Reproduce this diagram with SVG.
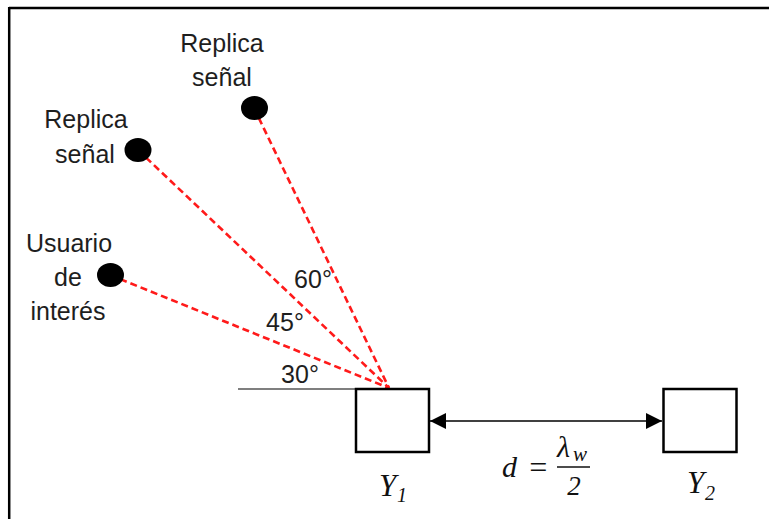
<svg xmlns="http://www.w3.org/2000/svg" width="769" height="519" viewBox="0 0 769 519">
<defs>
<style>
.lbl{font-family:"Liberation Sans",Arial,sans-serif;font-size:25px;fill:#1e1e1e;text-anchor:middle}
.math{font-family:"Liberation Serif","DejaVu Serif",serif;font-style:italic;fill:#111}
.ray{stroke:#ff1a1a;stroke-width:2.6;stroke-dasharray:7 4;fill:none}
.dot{fill:#000}
.box{fill:#fff;stroke:#000;stroke-width:2.5}
</style>
<marker id="ah" viewBox="0 0 16 16" refX="16" refY="8" markerWidth="16" markerHeight="16" markerUnits="userSpaceOnUse" orient="auto-start-reverse">
<path d="M0,0 L16,8 L0,16 Z" fill="#000"/>
</marker>
</defs>
<rect width="769" height="519" fill="#fff"/>
<g id="frame" stroke="#000" stroke-width="2.5" fill="none">
<line x1="9" y1="8" x2="769" y2="8"/>
<line x1="9.2" y1="7" x2="9.2" y2="519"/>
</g>
<g id="connectors">
<line x1="238" y1="389" x2="356" y2="389" stroke="#000" stroke-width="1.2"/>
<line class="ray" x1="110" y1="275" x2="389" y2="388"/>
<line class="ray" x1="138" y1="150" x2="389" y2="388"/>
<line class="ray" x1="254" y1="108" x2="389" y2="388"/>
<line x1="430" y1="421" x2="662" y2="421" stroke="#000" stroke-width="1.5" marker-start="url(#ah)" marker-end="url(#ah)"/>
</g>
<g id="user">
<ellipse class="dot" cx="110.5" cy="275" rx="13.5" ry="12"/>
<text class="lbl" x="69" y="252">Usuario</text>
<text class="lbl" x="68" y="286">de</text>
<text class="lbl" x="68" y="320">interés</text>
</g>
<g id="replica1">
<ellipse class="dot" cx="138" cy="150" rx="13.5" ry="12"/>
<text class="lbl" x="86" y="128">Replica</text>
<text class="lbl" x="85" y="163">señal</text>
</g>
<g id="replica2">
<ellipse class="dot" cx="254.5" cy="108" rx="13.5" ry="12"/>
<text class="lbl" x="222" y="52">Replica</text>
<text class="lbl" x="222" y="86">señal</text>
</g>
<g id="angles">
<text class="lbl" x="313" y="288">60°</text>
<text class="lbl" x="285" y="331">45°</text>
<text class="lbl" x="300" y="383">30°</text>
</g>
<g id="Y1">
<rect class="box" x="356" y="389" width="73" height="63"/>
<text class="math" x="379" y="496" font-size="31">Y</text>
<text class="math" x="397" y="502" font-size="20" font-style="normal">1</text>
</g>
<g id="Y2">
<rect class="box" x="663.5" y="389" width="73" height="63"/>
<text class="math" x="687" y="493" font-size="31">Y</text>
<text class="math" x="705" y="500" font-size="20" font-style="normal">2</text>
</g>
<g id="distance">
<text class="math" x="502" y="477" font-size="30">d</text>
<text class="math" x="538" y="478" font-size="32" font-style="normal" text-anchor="middle">=</text>
<line x1="557" y1="467" x2="590" y2="467" stroke="#111" stroke-width="1.3"/>
<text class="math" x="557" y="457" font-size="30" font-style="normal">λ</text>
<text class="math" x="573" y="461" font-size="21">w</text>
<text class="math" x="574" y="495" font-size="27" font-style="normal" text-anchor="middle">2</text>
</g>
</svg>
